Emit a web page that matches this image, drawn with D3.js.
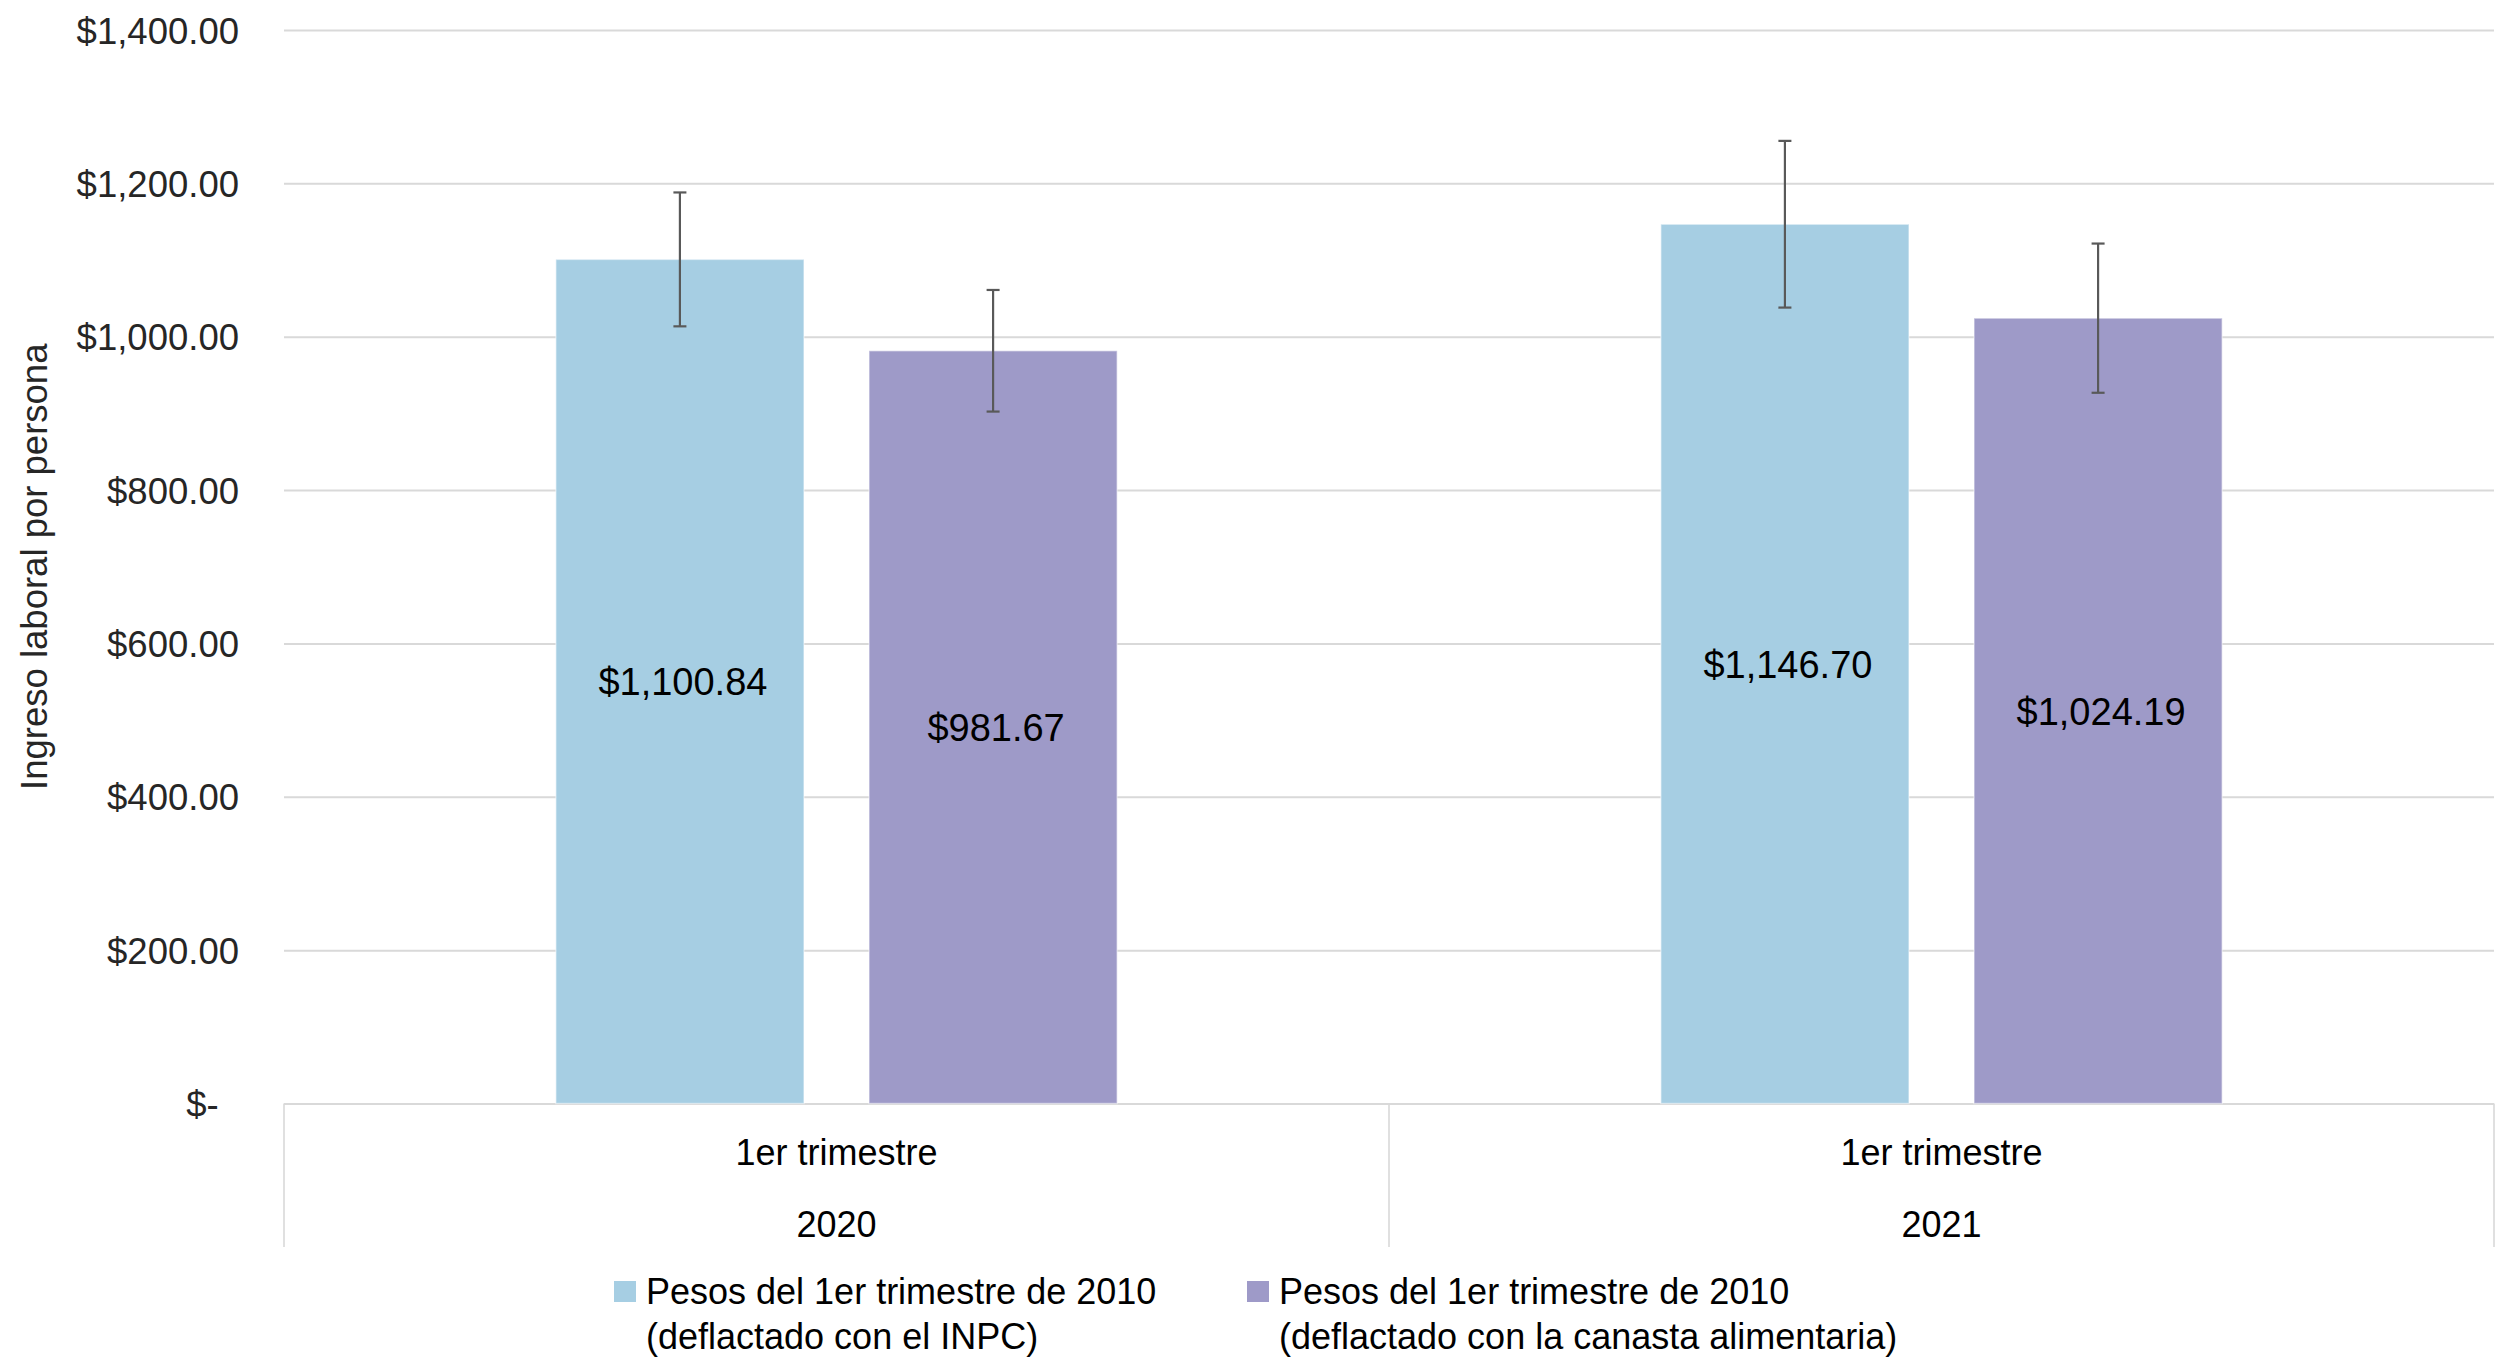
<!DOCTYPE html>
<html>
<head>
<meta charset="utf-8">
<script src="https://cdn.jsdelivr.net/npm/d3@7"></script>
<style>
  html, body { margin: 0; padding: 0; background: #ffffff; }
  svg { display: block; }
  text { font-family: "Liberation Sans", Arial, "Helvetica Neue", sans-serif; }
</style>
</head>
<body>
<svg id="chart" width="2506" height="1357"></svg>
<script>
// ---------- DATA ----------
const years = ["2020", "2021"];
const quarterLabels = ["1er trimestre", "1er trimestre"];
const seriesKeys = ["inpc", "canasta"];
const seriesNames = [
  ["Pesos del 1er trimestre de 2010", "(deflactado con el INPC)"],
  ["Pesos del 1er trimestre de 2010", "(deflactado con la canasta alimentaria)"]
];
const valuesINPC = [1100.84, 1146.70];
const valuesCanasta = [981.67, 1024.19];
const errorINPC = [87.3, 108.7];
const errorCanasta = [79.3, 97.3];
const yTicks = [0, 200, 400, 600, 800, 1000, 1200, 1400];
const yTitle = "Ingreso laboral por persona";

// ---------- LAYOUT ----------
const colors = { inpc: "#A6CEE3", canasta: "#9E9AC8" };
const plot = { left: 284, right: 2494, top: 30, bottom: 1103.5 };

const rows = years.map((y, i) => ({
  year: y,
  quarter: quarterLabels[i],
  inpc: valuesINPC[i], canasta: valuesCanasta[i],
  inpcErr: errorINPC[i], canastaErr: errorCanasta[i]
}));

const svg = d3.select("#chart");

const y = d3.scaleLinear().domain([0, 1400]).range([plot.bottom, plot.top]);
const x0 = d3.scaleBand().domain(years).range([plot.left, plot.right]).padding(0);
const x1 = d3.scaleBand().domain(seriesKeys).range([0, x0.bandwidth()])
  .paddingInner(0.2077).paddingOuter(0.868);

// ---------- GRID + Y AXIS ----------
const fmt = v => v === 0 ? "$-\u2007" : d3.format("$,.2f")(v);
const yAxis = d3.axisLeft(y)
  .tickValues(yTicks)
  .tickFormat(fmt)
  .tickSizeInner(-(plot.right - plot.left))
  .tickSizeOuter(0)
  .tickPadding(45);

const gy = svg.append("g")
  .attr("transform", `translate(${plot.left},0)`)
  .call(yAxis);
gy.select(".domain").remove();
gy.selectAll(".tick line")
  .attr("stroke", "#d9d9d9")
  .attr("stroke-width", 2);
gy.selectAll(".tick text")
  .attr("dy", "0.36em")
  .attr("fill", "#262626")
  .style("font-size", "36.5px")
  .style("white-space", "pre");

// Y title
svg.append("text")
  .attr("transform", `translate(47, ${(plot.top + plot.bottom) / 2}) rotate(-90)`)
  .attr("text-anchor", "middle")
  .attr("fill", "#262626")
  .style("font-size", "36.5px")
  .text(yTitle);

// ---------- CATEGORY AXIS (table-like) ----------
const catBottom = 1247;
const boundaries = years.map(d => x0(d)).concat([x0(years[years.length - 1]) + x0.bandwidth()]);
svg.append("g").selectAll("line.div")
  .data(boundaries)
  .join("line")
  .attr("x1", d => d).attr("x2", d => d)
  .attr("y1", plot.bottom).attr("y2", catBottom)
  .attr("stroke", "#d9d9d9")
  .attr("stroke-width", 1.6);

const catG = svg.append("g");
catG.selectAll("text.q")
  .data(rows)
  .join("text")
  .attr("x", d => x0(d.year) + x0.bandwidth() / 2)
  .attr("y", 1165)
  .attr("text-anchor", "middle")
  .attr("fill", "#000")
  .style("font-size", "36px")
  .text(d => d.quarter);
catG.selectAll("text.yr")
  .data(rows)
  .join("text")
  .attr("x", d => x0(d.year) + x0.bandwidth() / 2)
  .attr("y", 1237)
  .attr("text-anchor", "middle")
  .attr("fill", "#000")
  .style("font-size", "36px")
  .text(d => d.year);

// ---------- BARS ----------
const groups = svg.append("g").selectAll("g.grp")
  .data(rows)
  .join("g")
  .attr("transform", d => `translate(${x0(d.year)},0)`);

const barData = d => seriesKeys.map(k => ({ key: k, value: d[k], err: d[k + "Err"] }));

groups.selectAll("rect")
  .data(barData)
  .join("rect")
  .attr("x", d => x1(d.key))
  .attr("y", d => y(d.value))
  .attr("width", x1.bandwidth())
  .attr("height", d => y(0) - y(d.value))
  .attr("fill", d => colors[d.key])
  .attr("stroke", "rgba(255,255,255,0.45)")
  .attr("stroke-width", 1.5);

// Data labels
groups.selectAll("text.lbl")
  .data(barData)
  .join("text")
  .attr("class", "lbl")
  .attr("x", d => x1(d.key) + x1.bandwidth() / 2 + 3)
  .attr("y", d => (y(d.value) + y(0)) / 2)
  .attr("dy", "0.36em")
  .attr("text-anchor", "middle")
  .attr("fill", "#000")
  .style("font-size", "38px")
  .text(d => d3.format("$,.2f")(d.value));

// Error bars
const capW = 13;
const eb = groups.selectAll("g.eb")
  .data(barData)
  .join("g")
  .attr("class", "eb")
  .attr("stroke", "#595959")
  .attr("stroke-width", 2.2);
eb.append("line")
  .attr("x1", d => x1(d.key) + x1.bandwidth() / 2)
  .attr("x2", d => x1(d.key) + x1.bandwidth() / 2)
  .attr("y1", d => y(d.value + d.err))
  .attr("y2", d => y(d.value - d.err));
eb.append("line")
  .attr("x1", d => x1(d.key) + x1.bandwidth() / 2 - capW / 2)
  .attr("x2", d => x1(d.key) + x1.bandwidth() / 2 + capW / 2)
  .attr("y1", d => y(d.value + d.err))
  .attr("y2", d => y(d.value + d.err));
eb.append("line")
  .attr("x1", d => x1(d.key) + x1.bandwidth() / 2 - capW / 2)
  .attr("x2", d => x1(d.key) + x1.bandwidth() / 2 + capW / 2)
  .attr("y1", d => y(d.value - d.err))
  .attr("y2", d => y(d.value - d.err));

// ---------- LEGEND ----------
const legendX = [614, 1247];
const leg = svg.append("g").selectAll("g.leg")
  .data(seriesKeys)
  .join("g")
  .attr("transform", (d, i) => `translate(${legendX[i]},0)`);
leg.append("rect")
  .attr("x", 0).attr("y", 1281)
  .attr("width", 22).attr("height", 21)
  .attr("fill", d => colors[d]);
leg.each(function (d, i) {
  const t = d3.select(this).append("text")
    .attr("fill", "#000")
    .style("font-size", "36px");
  seriesNames[i].forEach((line, j) => {
    t.append("tspan")
      .attr("x", 32)
      .attr("y", 1304 + j * 45)
      .text(line);
  });
});
</script>
</body>
</html>
